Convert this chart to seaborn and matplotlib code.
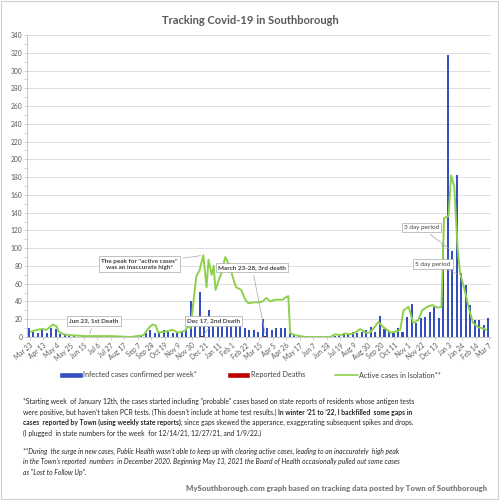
import pandas as pd
import seaborn as sns
import matplotlib.pyplot as plt
from matplotlib.patches import Rectangle
from matplotlib.lines import Line2D

sns.set_theme(style="white")
plt.rcParams['font.family'] = ['Lato', 'DejaVu Sans']

#Datos semanales (semana que empieza el lunes, desde Mar 23 2020)
inicio = pd.Timestamp('2020-03-23')

casos = [10, 6, 5, 8, 4, 10, 9, 3, 2, 1, 1, 0, 1,
         0, 1, 0, 1, 0, 1, 0, 1, 0, 0, 1, 1, 2,
         5, 8, 5, 6, 8, 6, 4, 5, 6, 9,
         40, 22, 51, 20, 30, 22, 20, 22, 18, 20, 15, 14, 10, 8, 8, 6,
         20, 10, 8, 10, 10, 10, 5, 3, 2, 1,
         0, 1, 0, 0, 1, 0, 1, 3, 5, 4, 6, 5, 6, 8,
         11, 6, 24, 9, 6, 4, 10, 6, 23, 37, 16, 21, 22, 28, 34, 21,
         105, 318, 97, 182, 72, 59, 36, 19, 19, 14, 21]

muertes = [0] * len(casos)
muertes[13] = 1   # Jun 23 2020
muertes[38] = 1   # Dec 17 2020
muertes[52] = 1   # Mar 23-28 2021

etiquetas = ['Mar 23', 'Apr 13', 'May 4', 'May 25', 'Jun 15', 'Jul 6', 'Jul 27',
             'Aug 17', 'Sep 7', 'Sep 28', 'Oct 19', 'Nov 9', 'Nov 30', 'Dec 21',
             'Jan 11', 'Feb 1', 'Feb 22', 'Mar 15', 'Apr 5', 'Apr 26', 'May 17',
             'Jun 7', 'Jun 28', 'Jul 19', 'Aug 9', 'Aug 30', 'Sep 20', 'Oct 11',
             'Nov 1', 'Nov 22', 'Dec 13', 'Jan 3', 'Jan 24', 'Feb 14', 'Mar 7']

#Casos activos en aislamiento (fechas de reporte)
activos_fechas = ['2020-03-25', '2020-04-03', '2020-04-12', '2020-04-18', '2020-04-28',
                  '2020-05-04', '2020-05-07', '2020-05-15', '2020-05-26', '2020-06-18',
                  '2020-07-27', '2020-08-27', '2020-09-16', '2020-09-24', '2020-09-30',
                  '2020-10-05', '2020-10-09', '2020-10-20', '2020-10-31', '2020-11-09',
                  '2020-11-20', '2020-11-23', '2020-11-28', '2020-12-03', '2020-12-07',
                  '2020-12-12', '2020-12-18', '2020-12-23', '2020-12-26', '2020-12-31',
                  '2021-01-03', '2021-01-06', '2021-01-10', '2021-01-15', '2021-01-21',
                  '2021-01-26', '2021-01-31', '2021-02-04', '2021-02-07', '2021-02-15',
                  '2021-02-21', '2021-02-26', '2021-03-06', '2021-03-14', '2021-03-20',
                  '2021-03-26', '2021-04-01', '2021-04-09', '2021-04-20', '2021-04-26',
                  '2021-04-29', '2021-05-02', '2021-05-10', '2021-05-26', '2021-07-03',
                  '2021-07-11', '2021-07-19', '2021-07-27', '2021-08-03', '2021-08-11',
                  '2021-08-19', '2021-08-27', '2021-09-03', '2021-09-10', '2021-09-16',
                  '2021-09-24', '2021-10-05', '2021-10-12', '2021-10-20', '2021-10-25',
                  '2021-11-02', '2021-11-09', '2021-11-17', '2021-11-23', '2021-12-01',
                  '2021-12-09', '2021-12-17', '2021-12-23', '2021-12-27', '2022-01-03',
                  '2022-01-07', '2022-01-12', '2022-01-17', '2022-01-21', '2022-01-29',
                  '2022-02-03', '2022-02-10', '2022-02-18', '2022-02-24', '2022-03-03']
activos = [6, 8, 9, 8, 14,
           12, 6, 3, 2, 1,
           1, 0, 2, 10, 14,
           13, 5, 6, 8, 5,
           7, 12, 10, 42, 68,
           75, 92, 56, 87, 70,
           80, 53, 62, 72, 90,
           83, 72, 62, 56, 53,
           42, 38, 39, 39, 40,
           44, 40, 42, 42, 45,
           46, 4, 2, 0, 0,
           3, 2, 4, 3, 5,
           9, 5, 5, 11, 17,
           11, 5, 6, 8, 30,
           34, 16, 19, 30, 34,
           36, 33, 34, 134, 136,
           182, 169, 101, 72, 50,
           34, 16, 11, 10, 8]

semanas = pd.date_range(inicio, periods=len(casos), freq='7D')
dia_sem = (semanas - inicio).days.values
dia_act = (pd.to_datetime(activos_fechas) - inicio).days.values

gris = '#595959'
azul = '#3450C0'
rojo = '#C00000'
verde = '#8ED14B'

fig = plt.figure(figsize=(5, 5), dpi=100)
ax = fig.add_axes([0.054, 0.326, 0.928, 0.604])

sns.barplot(x=dia_sem - 1.5, y=casos, native_scale=True, width=0.45,
            color=azul, saturation=1, linewidth=0, ax=ax)
sns.barplot(x=dia_sem + 1.6, y=muertes, native_scale=True, width=0.45,
            color=rojo, saturation=1, linewidth=0, ax=ax)
sns.lineplot(x=dia_act, y=activos, color=verde, lw=1.4, ax=ax)

ax.set_xlim(-4, 717)
ax.set_ylim(0, 340)
ax.set_yticks(range(0, 341, 20))
ax.set_yticks(range(10, 341, 20), minor=True)
ax.set_xticks(range(0, 715, 21))
ax.set_xticklabels(etiquetas, rotation=40, ha='right', rotation_mode='anchor')
ax.tick_params(axis='both', which='both', labelsize=4.8, labelcolor=gris,
               color='#bfbfbf', length=2, width=0.5, pad=1.5, direction='out')
ax.tick_params(axis='y', which='both', left=True)
ax.tick_params(axis='x', bottom=True)
ax.grid(axis='y', color='#d9d9d9', lw=0.6)
ax.set_axisbelow(True)
for lado in ['top', 'right']:
    ax.spines[lado].set_visible(False)
for lado in ['left', 'bottom']:
    ax.spines[lado].set_color('#bfbfbf')
    ax.spines[lado].set_linewidth(0.6)
ax.set_xlabel('')
ax.set_ylabel('')

#Notas sobre el grafico
caja = dict(boxstyle='square,pad=0.35', fc='white', ec='#a6a6a6', lw=0.5)
linea = dict(arrowstyle='-', color='#a6a6a6', lw=0.5)
notas = [("Jun 23, 1st Death", (92, 0.5), (100, 18), 'bold'),
         ("Dec 17, 2nd Death", (269, 0.5), (286, 18), 'bold'),
         ("The peak for \"active cases\"\nwas an inaccurate high*", (270, 92), (171, 82), 'bold'),
         ("March 23-28, 3rd death", (367, 0.5), (346, 78), 'bold'),
         ("3 day period", (656, 97), (609, 123), 'normal'),
         ("5 day period", (668, 70), (627, 82), 'normal')]
for txt, punto, pos, peso in notas:
    ax.annotate(txt, xy=punto, xytext=pos, textcoords='data', ha='center', va='center',
                fontsize=4.6, fontweight=peso, color='#404040', bbox=caja,
                arrowprops=linea, linespacing=1.3)

fig.text(0.5, 0.96, 'Tracking Covid-19 in Southborough', ha='center', va='center',
         fontsize=8, fontweight='bold', color=gris)

manejadores = [Rectangle((0, 0), 1, 1, fc=azul),
               Rectangle((0, 0), 1, 1, fc=rojo),
               Line2D([0], [1], color=verde, lw=1.2)]
fig.legend(manejadores, ['Infected cases confirmed per week*', 'Reported Deaths',
                         'Active cases in Isolation**'],
           loc='center', bbox_to_anchor=(0.5, 0.25), ncol=3, frameon=False,
           fontsize=5.2, handlelength=3.2, handleheight=0.9, handletextpad=0.05,
           columnspacing=4.2, labelcolor='#404040')

#Texto al pie con partes en negrita
render = fig.canvas.get_renderer()


def escribir(x, y, partes, estilo='normal'):
    esp = None
    for txt, peso in partes:
        if txt.startswith(' '):
            if esp is None:
                a = fig.text(0, 0, 'n n', fontsize=4.85, fontweight=peso, style=estilo)
                b = fig.text(0, 0, 'nn', fontsize=4.85, fontweight=peso, style=estilo)
                esp = (a.get_window_extent(render).width - b.get_window_extent(render).width)
                a.remove()
                b.remove()
            x += esp / fig.bbox.width
            txt = txt.strip()
        t = fig.text(x, y, txt, fontsize=4.85, fontweight=peso, style=estilo,
                     color='#262626', va='baseline')
        x += t.get_window_extent(render).width / fig.bbox.width


x0 = 0.046
escribir(x0, 0.192, [('*Starting week  of January 12th, the cases started including "probable" cases based on state reports of residents whose antigen tests', 'normal')])
escribir(x0, 0.171, [('were positive, but haven\u2019t taken PCR tests. (This doesn\u2019t include at home test results.)', 'normal'),
                     (' In winter \u201921 to \u201922, I backfilled  some gaps in', 'bold')])
escribir(x0, 0.150, [('cases  reported by Town (using weekly state reports)', 'bold'),
                     (', since gaps skewed the apperance, exaggerating subsequent spikes and drops.', 'normal')])
escribir(x0, 0.129, [('(I plugged  in state numbers for the week  for 12/14/21, 12/27/21, and 1/9/22.)', 'normal')])
escribir(x0, 0.093, [('**During  the surge in new cases, Public Health wasn\u2019t able to keep up with clearing active cases, leading to an inaccurately  high peak', 'normal')], 'italic')
escribir(x0, 0.072, [('in the Town\u2019s reported  numbers  in December 2020. Beginning May 13, 2021 the Board of Health occasionally pulled out some cases', 'normal')], 'italic')
escribir(x0, 0.051, [('as "Lost to Follow Up".', 'normal')], 'italic')

fig.text(0.974, 0.024, 'MySouthborough.com graph based on tracking data posted by Town of Southborough',
         ha='right', va='center', fontsize=5.6, fontweight='heavy', color='#7f7f7f')

fig.add_artist(Rectangle((0.002, 0.002), 0.994, 0.996, transform=fig.transFigure,
                         fill=False, ec='#d0d0d0', lw=0.8))

plt.savefig('out.png', dpi=100)
